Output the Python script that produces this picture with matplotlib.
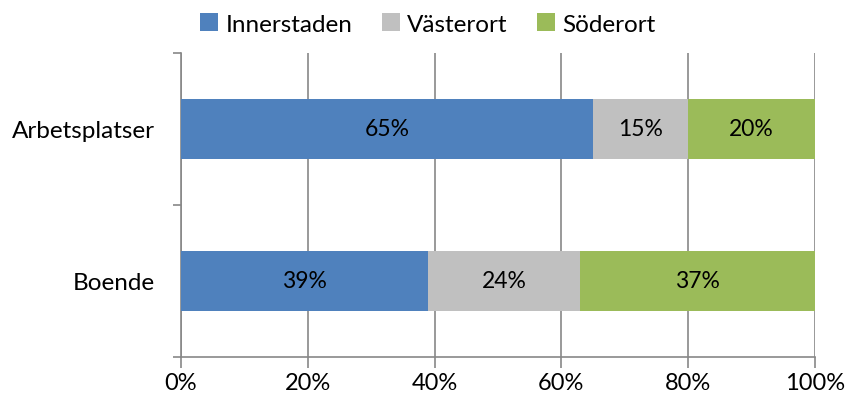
import matplotlib.pyplot as plt
import numpy as np

plt.rcParams['font.family'] = ['Lato', 'DejaVu Sans']

categories = ["Boende", "Arbetsplatser"]
series = ["Innerstaden", "Västerort", "Söderort"]
innerstaden = [39, 65]
vasterort = [24, 15]
soderort = [37, 20]
colors = ["#4f81bd", "#c0c0c0", "#9bbb59"]
ticks = [0, 20, 40, 60, 80, 100]

fig = plt.figure(figsize=(8.49, 4.02), dpi=100)
ax = fig.add_axes([181/849, 44/402, 634/849, 304/402])

y = np.arange(len(categories))
left = np.zeros(len(categories))
for name, vals, col in zip(series, [innerstaden, vasterort, soderort], colors):
    bars = ax.barh(y, vals, left=left, height=0.4, color=col, label=name, zorder=3)
    for b, v in zip(bars, vals):
        ax.text(b.get_x() + b.get_width() / 2, b.get_y() + b.get_height() / 2,
                f"{v}%", ha="center", va="center", fontsize=16.5, color="black", zorder=4)
    left += vals

ax.set_xlim(0, 100)
ax.set_ylim(-0.5, 1.5)
ax.set_xticks(ticks)
ax.set_xticklabels([f"{t}%" for t in ticks], fontsize=17)
ax.set_yticks(y)
ax.set_yticklabels(categories, fontsize=17.5)
ax.set_yticks([-0.5, 0.5, 1.5], minor=True)
ax.tick_params(axis="y", which="major", length=0, pad=19)
ax.tick_params(axis="y", which="minor", length=6, color="#878787", width=1.2)
ax.tick_params(axis="x", length=8, color="#878787", width=1.2, pad=3)
ax.grid(axis="x", color="#878787", linewidth=1.2, zorder=0)

for s in ["top", "right"]:
    ax.spines[s].set_visible(False)
for s in ["left", "bottom"]:
    ax.spines[s].set_color("#878787")
    ax.spines[s].set_linewidth(1.2)

handles, labels = ax.get_legend_handles_labels()
fig.legend(handles, labels, loc="center", bbox_to_anchor=(428/849, 1 - 25/402),
           ncol=3, frameon=False, fontsize=17.5, handlelength=0.75, handleheight=0.75,
           handletextpad=0.3, columnspacing=1.2)

fig.savefig("out.png", dpi=100)
